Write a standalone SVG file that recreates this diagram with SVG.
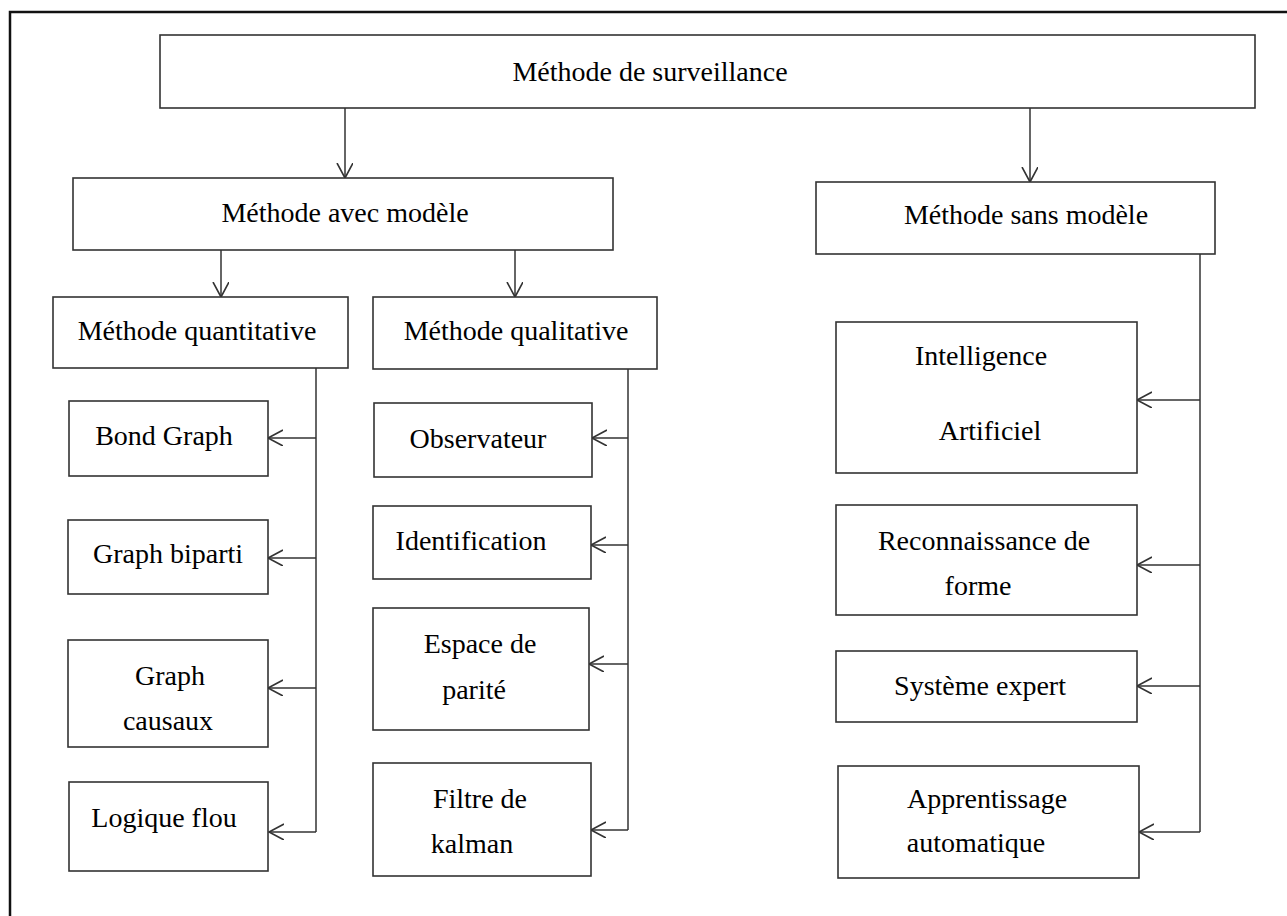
<svg xmlns="http://www.w3.org/2000/svg" width="1287" height="916" viewBox="0 0 1287 916">
<style>
.box{fill:#fff;stroke:#333;stroke-width:1.6}
.ln{fill:none;stroke:#333;stroke-width:1.5}
.ar{fill:none;stroke:#333;stroke-width:1.5;marker-end:url(#v)}
text{font-family:"Liberation Serif","Times New Roman",serif;font-size:28px;fill:#000;text-anchor:middle}
</style>
<defs>
<marker id="v" markerUnits="userSpaceOnUse" markerWidth="20" markerHeight="20" refX="15" refY="8" orient="auto" viewBox="0 0 20 20">
<path d="M0,0 L15,8 L0,16" fill="none" stroke="#333" stroke-width="1.6"/>
</marker>
</defs>
<rect width="1287" height="916" fill="#fff"/>
<path d="M10,916 V12 H1287" fill="none" stroke="#111" stroke-width="2.5"/>
<g id="connectors">
<path class="ar" d="M345,108 V178"/>
<path class="ar" d="M1030,108 V182"/>
<path class="ar" d="M221,250 V297"/>
<path class="ar" d="M515,250 V297"/>
<path class="ln" d="M316,368 V832"/>
<path class="ar" d="M316,438 H268"/>
<path class="ar" d="M316,558 H268"/>
<path class="ar" d="M316,688 H268"/>
<path class="ar" d="M316,832 H269"/>
<path class="ln" d="M628,368 V830"/>
<path class="ar" d="M628,438 H592"/>
<path class="ar" d="M628,545 H591"/>
<path class="ar" d="M628,664 H589"/>
<path class="ar" d="M628,830 H591"/>
<path class="ln" d="M1200,254 V832"/>
<path class="ar" d="M1200,400 H1137"/>
<path class="ar" d="M1200,565 H1137"/>
<path class="ar" d="M1200,686 H1137"/>
<path class="ar" d="M1200,832 H1139"/>
</g>
<g id="n-surveillance"><rect class="box" x="160" y="35" width="1095" height="73"/><text x="650" y="81">Méthode de surveillance</text></g>
<g id="n-avec"><rect class="box" x="73" y="178" width="540" height="72"/><text x="345" y="222">Méthode avec modèle</text></g>
<g id="n-sans"><rect class="box" x="816" y="182" width="399" height="72"/><text x="1026" y="224">Méthode sans modèle</text></g>
<g id="n-quantitative"><rect class="box" x="53" y="297" width="295" height="71"/><text x="197" y="340">Méthode quantitative</text></g>
<g id="n-qualitative"><rect class="box" x="373" y="297" width="284" height="72"/><text x="516" y="340">Méthode qualitative</text></g>
<g id="n-bond"><rect class="box" x="69" y="401" width="199" height="75"/><text x="164" y="445">Bond Graph</text></g>
<g id="n-biparti"><rect class="box" x="68" y="520" width="200" height="74"/><text x="168" y="563">Graph biparti</text></g>
<g id="n-causaux"><rect class="box" x="68" y="640" width="200" height="107"/><text x="170" y="685">Graph</text><text x="168" y="730">causaux</text></g>
<g id="n-flou"><rect class="box" x="69" y="782" width="199" height="89"/><text x="164" y="827">Logique  flou</text></g>
<g id="n-observateur"><rect class="box" x="374" y="403" width="218" height="74"/><text x="478" y="448">Observateur</text></g>
<g id="n-identification"><rect class="box" x="373" y="506" width="218" height="73"/><text x="471" y="550">Identification</text></g>
<g id="n-parite"><rect class="box" x="373" y="608" width="216" height="122"/><text x="480" y="653">Espace de</text><text x="474" y="699">parité</text></g>
<g id="n-kalman"><rect class="box" x="373" y="763" width="218" height="113"/><text x="480" y="808">Filtre  de</text><text x="472" y="853">kalman</text></g>
<g id="n-ia"><rect class="box" x="836" y="322" width="301" height="151"/><text x="981" y="365">Intelligence</text><text x="990" y="440">Artificiel</text></g>
<g id="n-forme"><rect class="box" x="836" y="505" width="301" height="110"/><text x="984" y="550">Reconnaissance  de</text><text x="978" y="595">forme</text></g>
<g id="n-expert"><rect class="box" x="836" y="651" width="301" height="71"/><text x="980" y="695">Système  expert</text></g>
<g id="n-auto"><rect class="box" x="838" y="766" width="301" height="112"/><text x="987" y="808">Apprentissage</text><text x="976" y="852">automatique</text></g>
</svg>
